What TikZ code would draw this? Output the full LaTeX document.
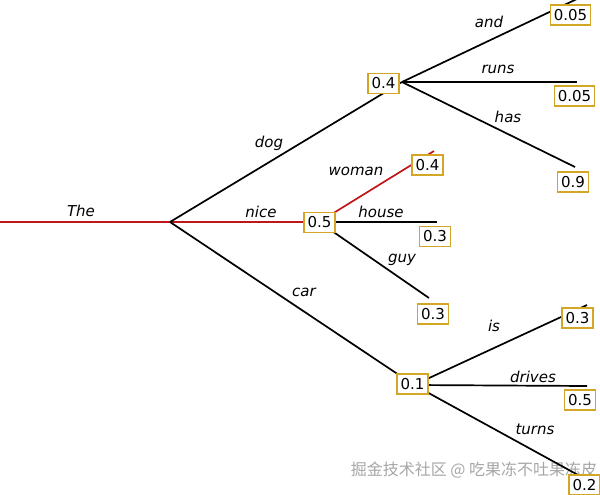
\documentclass[tikz,border=0pt]{standalone}
\usepackage{fontspec}
\setmainfont{DejaVu Sans}
\newfontfamily\cjkfont{Noto Sans CJK SC}
\definecolor{beamred}{RGB}{190,22,26}
\definecolor{probgold}{RGB}{212,166,38}

\begin{document}
\begin{tikzpicture}[x=1pt, y=-1pt, font=\fontsize{15}{18}\selectfont]
  \tikzset{prob node/.style={draw=probgold, fill=white, line width=1.3pt, inner xsep=3.5pt, inner ysep=4.3pt},
           word/.style={font=\fontsize{15}{18}\selectfont\itshape},
           branch/.style={line width=1.7pt},
           best/.style={branch, beamred}}
  \useasboundingbox (0,0) rectangle (600,495);

  % watermark
  \node[gray!70, font=\cjkfont\fontsize{16}{18}\selectfont] (mark) at (474,470) {掘金技术社区 @ 吃果冻不吐果冻皮};

  % Junctions of the tree
  \coordinate (start) at (0,222);
  \coordinate (root) at (170,222);
  \coordinate (dog) at (402,82);
  \coordinate (nice) at (319,222);
  \coordinate (car) at (414,385);

  % Free ends of the last words
  \coordinate (and) at (579,-2);
  \coordinate (runs) at (577,82);
  \coordinate (has) at (575,167);
  \coordinate (woman) at (434,151);
  \coordinate (house) at (437,222);
  \coordinate (guy) at (429,298);
  \coordinate (is) at (587,305);
  \coordinate (drives) at (587,386);
  \coordinate (turns) at (589,481);

  % Branches, greedy path in red
  \draw[best] (start) -- (root);
  \draw[best] (root) -- (nice);
  \draw[best] (nice) -- (woman);
  \draw[branch] (root) -- (dog);
  \draw[branch] (root) -- (car);
  \draw[branch] (dog) -- (and);
  \draw[branch] (dog) -- (runs);
  \draw[branch] (dog) -- (has);
  \draw[branch] (nice) -- (house);
  \draw[branch] (nice) -- (guy);
  \draw[branch] (car) -- (is);
  \draw[branch] (car) -- (drives);
  \draw[branch] (car) -- (turns);

  % Probabilities
  \node[prob node] (p-dog) at (383.5,83.5) {0.4};
  \node[prob node] (p-nice) at (319.5,222.5) {0.5};
  \node[prob node] (p-car) at (412.5,384) {0.1};
  \node[prob node] (p-and) at (570.5,15) {0.05};
  \node[prob node] (p-runs) at (574.5,96) {0.05};
  \node[prob node] (p-has) at (573,182) {0.9};
  \node[prob node] (p-woman) at (427.5,165) {0.4};
  \node[prob node] (p-house) at (435,236.5) {0.3};
  \node[prob node] (p-guy) at (433,314) {0.3};
  \node[prob node] (p-is) at (577.5,318) {0.3};
  \node[prob node] (p-drives) at (580,400) {0.5};
  \node[prob node] (p-turns) at (584.5,485) {0.2};

  % Words on the branches
  \node[word] (w-the) at (81,211) {The};
  \node[word] (w-dog) at (269,143) {dog};
  \node[word] (w-nice) at (261,212) {nice};
  \node[word] (w-car) at (304,292) {car};
  \node[word] (w-and) at (489,22) {and};
  \node[word] (w-runs) at (498,69) {runs};
  \node[word] (w-has) at (508,117) {has};
  \node[word] (w-woman) at (356,171) {woman};
  \node[word] (w-house) at (381,212) {house};
  \node[word] (w-guy) at (402,260) {guy};
  \node[word] (w-is) at (494,326) {is};
  \node[word] (w-drives) at (533,377) {drives};
  \node[word] (w-turns) at (535,429) {turns};
\end{tikzpicture}
\end{document}
